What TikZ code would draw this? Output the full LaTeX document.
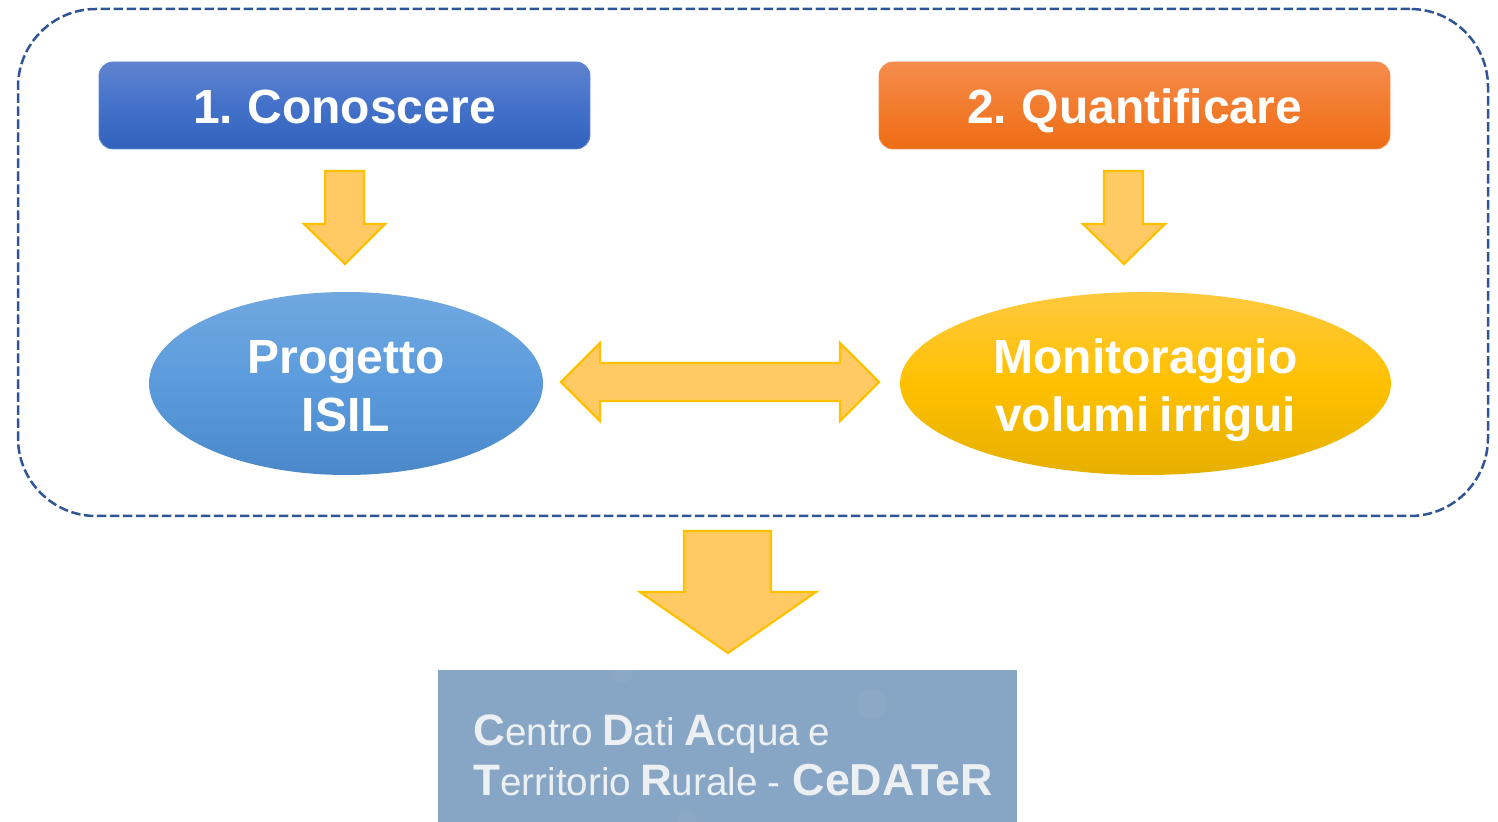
\documentclass[tikz,border=0pt]{standalone}
\usepackage{fontspec}
\setmainfont[WordSpace=0.75]{Liberation Sans}
\usetikzlibrary{shapes.geometric}
\definecolor{frameblue}{HTML}{2F5597}
\definecolor{arrowfill}{HTML}{FFCA64}
\definecolor{arrowline}{HTML}{FFC000}
\definecolor{logobg}{HTML}{87A5C4}
\definecolor{logotext}{HTML}{EDF0F3}
\definecolor{blueT}{HTML}{5F83CF}\definecolor{blueM}{HTML}{4472CA}\definecolor{blueB}{HTML}{3162BD}
\definecolor{orangeT}{HTML}{F58D4E}\definecolor{orangeM}{HTML}{F27C2E}\definecolor{orangeB}{HTML}{EE6C15}
\definecolor{ovalblueT}{HTML}{70A8DF}\definecolor{ovalblueM}{HTML}{5B9BDD}\definecolor{ovalblueB}{HTML}{4A88C8}
\definecolor{ovalyelT}{HTML}{FFC93F}\definecolor{ovalyelM}{HTML}{FFC000}\definecolor{ovalyelB}{HTML}{E6B000}
\newcommand{\linestrut}{\rule[-4.5pt]{0pt}{28.5pt}}
\newcommand{\capB}[1]{{\fontsize{22}{25}\selectfont\bfseries #1}}
\tikzset{
  x=0.5pt,y=-0.5pt,
  framebox/.style={draw=frameblue,line width=1.25pt,dash pattern=on 4.7pt off 1.8pt,rounded corners=39pt,minimum width=735pt,minimum height=253.5pt,inner sep=0pt},
  titlebox/.style={rounded corners=7pt,minimum height=43.5pt,inner sep=0pt,text=white,font=\fontsize{24}{28}\selectfont\bfseries,align=center,text height=22pt,text depth=3.5pt,line width=0.4pt},
  blubox/.style={titlebox,minimum width=245.5pt,top color=blueT,bottom color=blueB,middle color=blueM,draw=blueT},
  orabox/.style={titlebox,minimum width=255.5pt,top color=orangeT,bottom color=orangeB,middle color=orangeM,draw=orangeT},
  oval/.style={ellipse,inner sep=0pt,minimum height=91.5pt,text=white,font=\fontsize{24}{29}\selectfont\bfseries\setlength{\lineskiplimit}{-20pt},align=center},
  blockarrow/.style={fill=arrowfill,draw=arrowline,line width=1.1pt,miter limit=10},
  logotxt/.style={anchor=base west,inner sep=0pt,text=logotext,font=\fontsize{19.3}{25}\selectfont},
}
\begin{document}
\begin{tikzpicture}
\useasboundingbox (0,0) rectangle (1498,822);
\node[framebox] (frame) at (753,262.5) {};
\node[blubox] (know) at (344.5,105.5) {1. Conoscere};
\node[orabox] (quant) at (1134.5,105.5) {2. Quantificare};
\node[oval,minimum width=197pt,top color=ovalblueT,bottom color=ovalblueB,middle color=ovalblueM] (isil) at (346,383.5) {\linestrut Progetto\\\linestrut ISIL};
\node[oval,minimum width=245.5pt,top color=ovalyelT,bottom color=ovalyelB,middle color=ovalyelM] (mon) at (1145.5,383.5) {\linestrut Monitoraggio\\\linestrut volumi irrigui};
\draw[blockarrow] (325,171) -- (364,171) -- (364,224) -- (385,224) -- (345,264) -- (304,224) -- (325,224) -- cycle;
\draw[blockarrow] (1104,171) -- (1143,171) -- (1143,224) -- (1165,224) -- (1124,264) -- (1083,224) -- (1104,224) -- cycle;
\draw[blockarrow] (561,382) -- (600,343) -- (600,363) -- (840,363) -- (840,343) -- (879,382) -- (840,421) -- (840,401) -- (600,401) -- (600,421) -- cycle;
\draw[blockarrow] (684,531) -- (771,531) -- (771,592) -- (816,592) -- (728,653) -- (640,592) -- (684,592) -- cycle;
\node[rectangle,fill=logobg,minimum width=289.5pt,minimum height=76pt,inner sep=0pt] (logo) at (727.5,746) {};
\fill[white,opacity=0.035] (871,704) circle (15);
\fill[white,opacity=0.035] (622,672) circle (11);
\fill[white,opacity=0.035] (687,820) circle (10);
\node[logotxt] (line1) at (473,745) {\capB{C}entro\hspace{0.5pt} \capB{D}ati\hspace{1pt} \capB{A}cqua e};
\node[logotxt] (line2) at (473,795) {\capB{T}erritorio\hspace{0.5pt} \capB{R}urale\hspace{1pt} -\hspace{2pt} {\fontsize{22.4}{25}\selectfont\bfseries CeDATeR}};
\end{tikzpicture}
\end{document}
